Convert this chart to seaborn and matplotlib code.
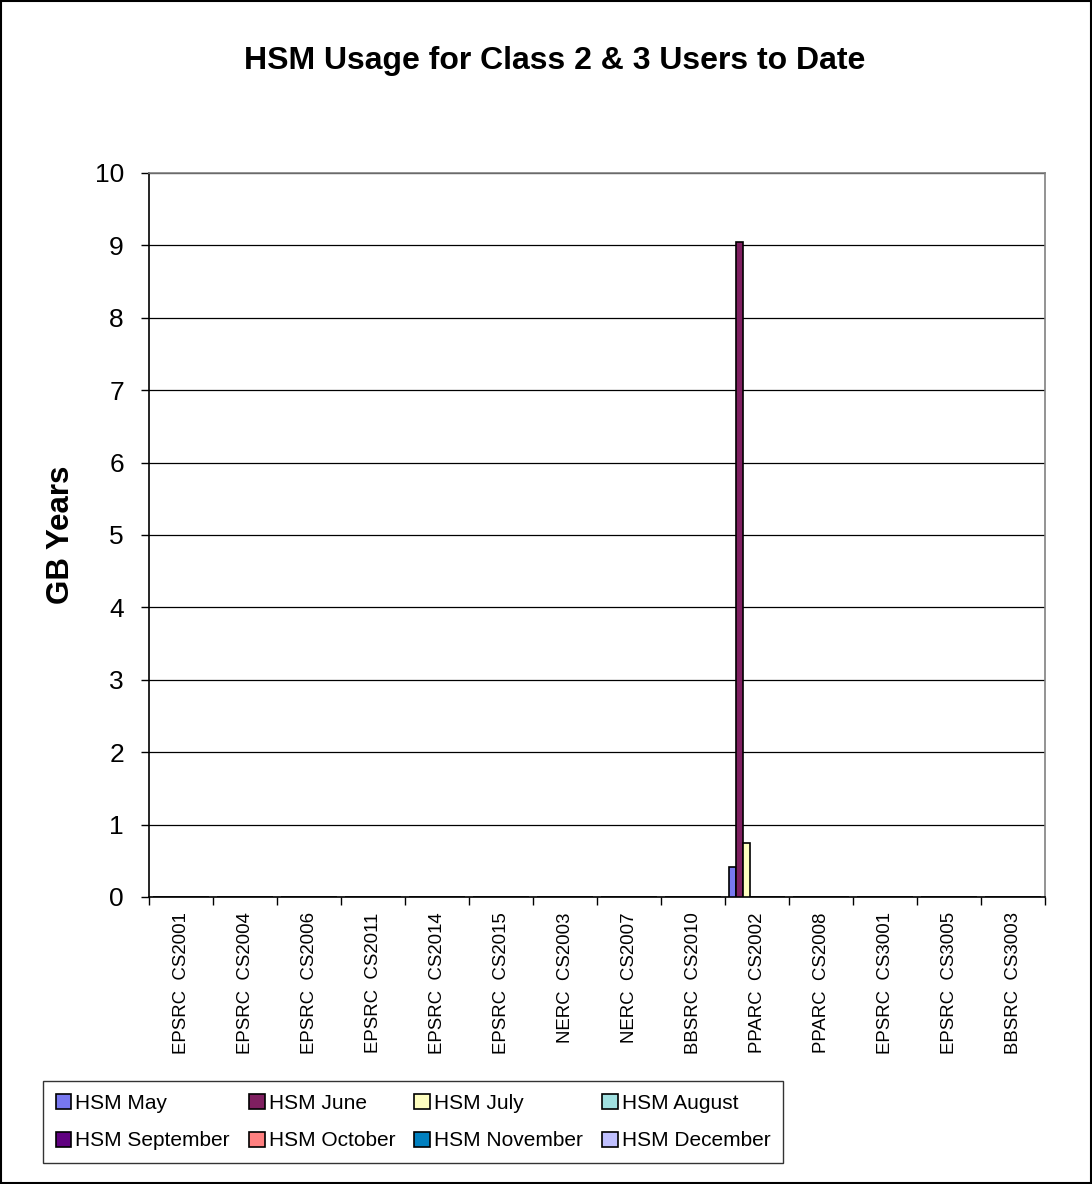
import numpy as np
import pandas as pd
import matplotlib
matplotlib.use("Agg")
import matplotlib.pyplot as plt
from matplotlib.patches import Rectangle, Patch
from matplotlib.ticker import FixedLocator
import seaborn as sns

# Projects (funding council + class code)
projects = [
    "EPSRC  CS2001", "EPSRC  CS2004", "EPSRC  CS2006", "EPSRC  CS2011",
    "EPSRC  CS2014", "EPSRC  CS2015", "NERC  CS2003", "NERC  CS2007",
    "BBSRC  CS2010", "PPARC  CS2002", "PPARC  CS2008", "EPSRC  CS3001",
    "EPSRC  CS3005", "BBSRC  CS3003",
]

months = ["HSM May", "HSM June", "HSM July", "HSM August",
          "HSM September", "HSM October", "HSM November", "HSM December"]

# GB years per project for each month
hsm_may       = [0, 0, 0, 0, 0, 0, 0, 0, 0, 0.42, 0, 0, 0, 0]
hsm_june      = [0, 0, 0, 0, 0, 0, 0, 0, 0, 9.05, 0, 0, 0, 0]
hsm_july      = [0, 0, 0, 0, 0, 0, 0, 0, 0, 0.75, 0, 0, 0, 0]
hsm_august    = [0] * 14
hsm_september = [0] * 14
hsm_october   = [0] * 14
hsm_november  = [0] * 14
hsm_december  = [0] * 14

month_colors = ["#7878F0", "#7F1F60", "#FFFFC0", "#A0E0E0",
                "#600080", "#FF8080", "#0080C0", "#C0C0FF"]

series = [hsm_may, hsm_june, hsm_july, hsm_august,
          hsm_september, hsm_october, hsm_november, hsm_december]

rows = []
for m, vals in zip(months, series):
    for p, v in zip(projects, vals):
        rows.append({"Project": p, "Month": m, "GB Years": v})
df = pd.DataFrame(rows)

sns.set_style("white")
plt.rcParams["font.family"] = ["Liberation Sans", "DejaVu Sans"]
plt.rcParams.update({"text.color": "black", "axes.labelcolor": "black",
                     "xtick.color": "black", "ytick.color": "black"})

W, H = 1092, 1184
fig = plt.figure(figsize=(W / 100, H / 100), dpi=100)
ax = fig.add_axes([149 / W, 1 - 897 / H, (1045 - 149) / W, (897 - 173) / H])

sns.barplot(data=df, x="Project", y="GB Years", hue="Month",
            order=projects, hue_order=months, palette=month_colors,
            width=0.875, dodge=True, edgecolor="black", linewidth=1.2,
            saturation=1, errorbar=None, legend=False, ax=ax, zorder=3)

ax.set_xlim(-0.5, len(projects) - 0.5)
ax.set_ylim(0, 10)
ax.set_yticks(range(0, 11))
ax.yaxis.grid(True, color="black", linewidth=0.9)
ax.set_axisbelow(True)

ax.set_xlabel("")
ax.set_ylabel("")
ax.tick_params(axis="y", which="major", direction="out", length=6,
               width=1, color="black", labelsize=19, pad=12, left=True)
ax.tick_params(axis="x", which="major", length=0, pad=11, labelsize=13.4,
               labelrotation=90)
ax.xaxis.set_minor_locator(FixedLocator(np.arange(-0.5, len(projects), 1.0)))
ax.tick_params(axis="x", which="minor", direction="out", length=6,
               width=1, color="black", bottom=True)

for side in ["left", "bottom"]:
    ax.spines[side].set_color("black")
    ax.spines[side].set_linewidth(1.2)
for side in ["top", "right"]:
    ax.spines[side].set_color("#808080")
    ax.spines[side].set_linewidth(1.2)

fig.text(555 / W, 1 - 61 / H, "HSM Usage for Class 2 & 3 Users to Date",
         ha="center", va="center", fontsize=23, fontweight="bold")
fig.text(61 / W, 1 - 535 / H, "GB Years", rotation=90,
         ha="center", va="center", fontsize=22.5, fontweight="bold")

# legend fills column by column, so interleave to read across rows
order = [0, 4, 1, 5, 2, 6, 3, 7]
handles = [Patch(facecolor=month_colors[i], edgecolor="black", linewidth=1.2)
           for i in order]
labels = [months[i] for i in order]
leg = fig.legend(handles, labels, ncol=4, loc="lower left",
                 bbox_to_anchor=(43 / W, 1 - 1163 / H, 740 / W, 83 / H),
                 mode="expand", fontsize=15, frameon=True, fancybox=False,
                 edgecolor="black", handlelength=0.75, handleheight=0.75,
                 handletextpad=0.2, borderaxespad=0, borderpad=0.6,
                 labelspacing=0.9, columnspacing=0.3)
leg.get_frame().set_linewidth(1.0)

fig.patches.append(Rectangle((0.0008, 0.0008), 0.9984, 0.9984,
                             transform=fig.transFigure, fill=False,
                             edgecolor="black", linewidth=1.5))

fig.savefig("out.png", dpi=100, facecolor="white")
